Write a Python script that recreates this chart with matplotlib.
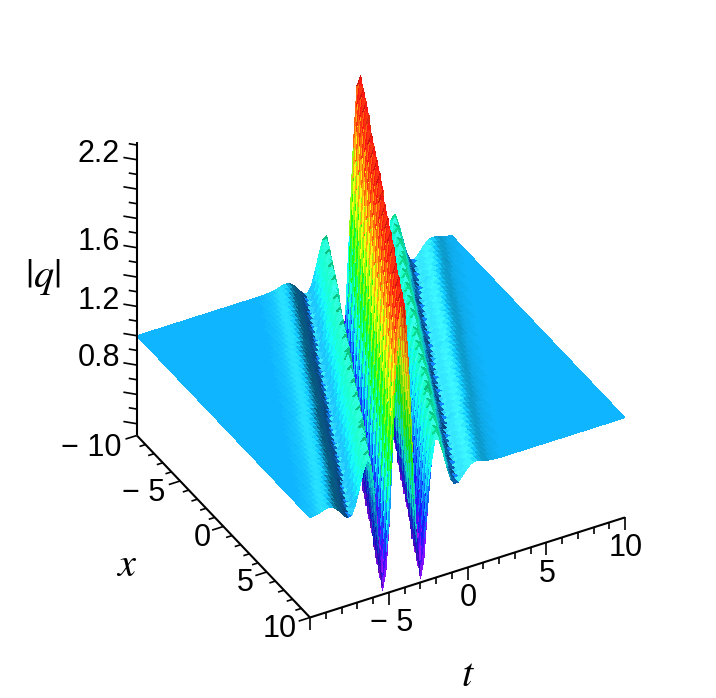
import numpy as np
import matplotlib
matplotlib.use("Agg")
from matplotlib import pyplot as plt
from matplotlib.colors import hsv_to_rgb
from mpl_toolkits.mplot3d import proj3d

plt.rcParams["font.family"] = ["Liberation Sans", "DejaVu Sans"]
plt.rcParams["mathtext.fontset"] = "stix"

# |q| read across the ridges, from the centre outwards, one value per 0.08 of
# distance (measured along t); the other side of the ridge is the same
q_across = [
    2.31, 2.289, 2.226, 2.120, 1.980, 1.812, 1.626, 1.427, 1.223, 1.024,
    0.840, 0.690, 0.570, 0.470, 0.380, 0.315, 0.380, 0.470, 0.580, 0.700,
    0.820, 0.930, 1.030, 1.120, 1.190, 1.240, 1.270, 1.280, 1.270, 1.250,
    1.225, 1.195, 1.160, 1.125, 1.090, 1.055, 1.020, 0.990, 0.965, 0.945,
    0.930, 0.922, 0.918, 0.918, 0.922, 0.930, 0.940, 0.950, 0.962, 0.973,
    0.984, 0.994, 1.003, 1.011, 1.018, 1.023, 1.027, 1.030, 1.030, 1.030,
    1.028, 1.026, 1.023, 1.020, 1.017, 1.014, 1.011, 1.009, 1.007, 1.006,
    1.005, 1.004, 1.003, 1.002, 1.002, 1.001, 1.001, 1.000, 1.000, 1.000,
    1.000,
]
q_step = 0.08
ridge_slope = 0.415  # the ridges run along t + 0.415 x = const

t_range = (-10, 10)
x_range = (-10, 10)
z_range = (0.32, 2.32)
n_t = 84
n_x = 51

t_labels = [-5, 0, 5, 10]
x_labels = [-10, -5, 0, 5, 10]
z_labels = [0.8, 1.2, 1.6, 2.2]


def surface_colors(z, t, x):
    """hue from height, dark on the faces turned away from the light"""
    dzdt = np.diff(z, axis=1)/(t[1]-t[0])
    dzdt = 0.5*(dzdt[:-1, :] + dzdt[1:, :])
    dzdx = np.diff(z, axis=0)/(x[1]-x[0])
    dzdx = 0.5*(dzdx[:, :-1] + dzdx[:, 1:])
    zface = 0.25*(z[:-1, :-1] + z[1:, :-1] + z[:-1, 1:] + z[1:, 1:])
    slope = 10.0*(dzdt + 0.15*dzdx)
    lit = np.clip(slope, 0.0, 1.0)/(1.0 + 0.35*slope**2)
    lit = lit*np.clip((1.5-zface)/0.2, 0.0, 1.0)
    hue = 0.85*(2.25-zface)/1.93
    hue = hue + np.clip(1.2*lit, 0.0, 1.0)*(0.5-hue)
    away = np.clip(-slope, 0.0, 1.0)*(1.0 - 0.55*np.clip((-slope-1.0)/3.0, 0.0, 1.0))
    val = 1.0 - (0.52 - 0.25*np.clip((zface-1.05)/0.15, 0.0, 1.0))*away
    sat = 0.94 - 0.25*lit
    hsv = np.dstack([np.clip(hue, 0, 1), np.clip(sat, 0, 1), val])
    return np.pad(hsv_to_rgb(hsv), ((0, 1), (0, 1), (0, 0)), mode="edge")


def draw_axes(ax):
    lo = z_range[0]
    black = dict(color="black", linewidth=1.5, zorder=5, solid_capstyle="butt")
    ax.plot([-10, 10], [10, 10], [lo, lo], **black)
    ax.plot([-10, -10], [-10, 10], [lo, lo], **black)
    ax.plot([-10, -10], [-10, -10], [lo, z_range[1]], **black)
    thin = dict(black, linewidth=1.2)
    for v in range(-10, 11):
        major = v % 5 == 0
        dz = 0.085 if major else 0.045
        ax.plot([v, v], [10, 10], [lo, lo-dz], **thin)
        dt = 0.72 if major else 0.38
        ax.plot([-10, -10-dt], [v, v], [lo, lo], **thin)
    for i in range(4, 24):
        v = i/10.0
        d = 0.55 if i % 2 == 0 else 0.33
        ax.plot([-10, -10-d], [-10, -10-d], [v, v], **thin)


def put_labels(fig):
    w, h = fig.get_size_inches()*fig.dpi

    def put(px, py, s, **kw):
        kw.setdefault("ha", "center")
        fig.text(px/w, 1-py/h, s, va="center", fontsize=kw.pop("fontsize", 22), **kw)

    spots_t = [(392, 623), (468, 598), (547, 574), (626, 548)]
    spots_x = [(91, 448), (144, 493), (202, 538), (245, 583), (280, 629)]
    spots_z = [358, 301, 242, 154]
    for v, (px, py) in zip(t_labels, spots_t):
        put(px, py, str(v).replace("-", "\u2212 "))
    for v, (px, py) in zip(x_labels, spots_x):
        put(px, py, str(v).replace("-", "\u2212 "))
    for v, py in zip(z_labels, spots_z):
        put(120, py, "%.1f" % v, ha="right")
    put(43, 277, r"$|q|$", fontsize=29)
    put(127, 565, r"$x$", fontsize=29)
    put(468, 675, r"$t$", fontsize=29)


def corner_px(ax, c):
    a, b, _z = proj3d.proj_transform(c[0], c[1], z_range[0], ax.get_proj())
    return ax.transData.transform((a, b))


def pin_box(fig, ax):
    """move the 3d box so that its corners land where the reference has them"""
    w, h = fig.get_size_inches()*fig.dpi
    zoom = 0.87
    for _ in range(3):
        fig.canvas.draw()
        span = corner_px(ax, (10, 10))[0] - corner_px(ax, (-10, 10))[0]
        zoom = zoom*315.0/span
        ax.set_box_aspect((1, 1, 1), zoom=zoom)
        fig.canvas.draw()
        p = corner_px(ax, (-10, 10))
        pos = ax.get_position()
        ax.set_position([pos.x0 + (310-p[0])/w, pos.y0 + ((h-617.5)-p[1])/h,
                         pos.width, pos.height])


def draw_figure():
    fig = plt.figure(figsize=(7.16, 6.98), dpi=100)
    ax = fig.add_axes([0, 0, 1, 1], projection="3d", proj_type="ortho")
    ax.computed_zorder = False
    ax.view_init(elev=35.3, azim=-118.8)
    ax.set_xlim(*t_range)
    ax.set_ylim(x_range[1], x_range[0])
    ax.set_zlim(*z_range)
    ax.set_box_aspect((1, 1, 1), zoom=0.87)
    ax.set_axis_off()

    t = np.linspace(t_range[0], t_range[1], n_t)
    x = np.linspace(x_range[0], x_range[1], n_x)
    T, X = np.meshgrid(t, x)
    # nearest reading of q_across for every mesh point
    idx = np.rint(np.abs(T + ridge_slope*X)/q_step).astype(int)
    Z = np.array(q_across)[np.minimum(idx, len(q_across)-1)]

    ax.plot_surface(T, X, Z, facecolors=surface_colors(Z, t, x), rstride=1, cstride=1,
                    shade=False, linewidth=0, antialiased=False, zorder=2)
    draw_axes(ax)
    put_labels(fig)
    pin_box(fig, ax)
    fig.savefig("out.png", dpi=100)


if __name__ == "__main__":
    draw_figure()
